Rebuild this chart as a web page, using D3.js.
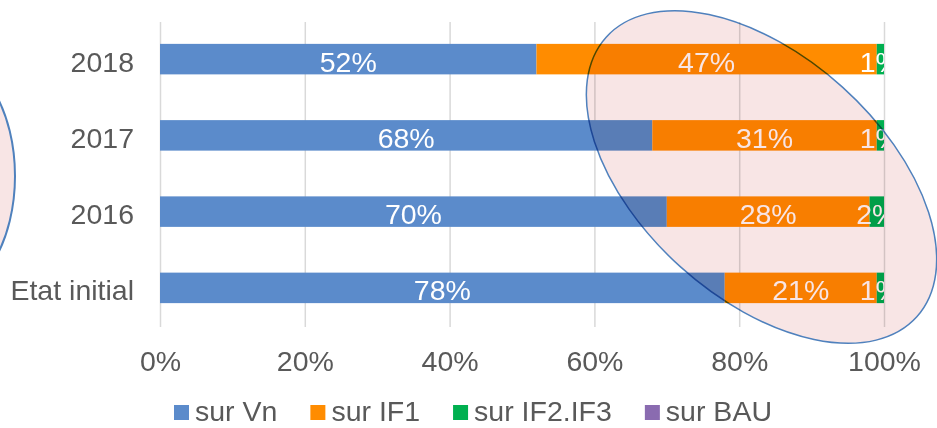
<!doctype html>
<html>
<head>
<meta charset="utf-8">
<script src="https://d3js.org/d3.v7.min.js"></script>
<style>
  body {margin: 0; background: #fff;}
  svg {display: block; font-family: "Liberation Sans", Arial, sans-serif;}
  .lbl {fill: #595959;}
</style>
</head>
<body>
<svg width="937" height="428"></svg>
<script>
// data (percent of each year)
const categories = ["2018", "2017", "2016", "Etat initial"];
const seriesNames = ["sur Vn", "sur IF1", "sur IF2.IF3", "sur BAU"];
const surVn    = [52, 68, 70, 78];
const surIF1   = [47, 31, 28, 21];
const surIF2   = [1, 1, 2, 1];
const surBAU   = [0, 0, 0, 0];
const colors   = ["#5B8BCB", "#FF8C00", "#00B050", "#8A6BB0"];
const xTicks   = [0, 20, 40, 60, 80, 100];

const svg = d3.select("svg");
const fs = 28.5;
const plotTop = 22, plotBottom = 327;

const x = d3.scaleLinear().domain([0, 100]).range([160, 884]);
const y = d3.scaleBand().domain(categories).range([21, 326]).paddingInner(0.6).paddingOuter(0.3);

// rows for the stack
const rows = categories.map((c, i) => ({cat: c, "sur Vn": surVn[i], "sur IF1": surIF1[i], "sur IF2.IF3": surIF2[i], "sur BAU": surBAU[i]}));
const stacked = d3.stack().keys(seriesNames)(rows);

// gridlines
const grid = svg.append("g")
    .attr("transform", "translate(0," + plotBottom + ")")
    .call(d3.axisBottom(x).tickValues(xTicks).tickSize(-(plotBottom - plotTop)).tickFormat(""));
grid.select(".domain").remove();
grid.selectAll("line").attr("stroke", "#D9D9D9").attr("stroke-width", 1.5);

// x tick labels
const xa = svg.append("g")
    .attr("transform", "translate(0," + plotBottom + ")")
    .call(d3.axisBottom(x).tickValues(xTicks).tickSize(0).tickPadding(24).tickFormat(d => d + "%"));
xa.attr("font-family", null).attr("font-size", null);
xa.select(".domain").remove();
xa.selectAll("text").attr("class", "lbl").attr("fill", null).style("font-size", fs + "px");

// category labels
svg.append("g").selectAll("text")
  .data(categories).enter().append("text")
    .attr("class", "lbl")
    .attr("x", 134)
    .attr("y", d => y(d) + y.bandwidth() / 2 + 12.5)
    .attr("text-anchor", "end")
    .style("font-size", fs + "px")
    .text(d => d);

// bars
svg.append("g").selectAll("g")
  .data(stacked).enter().append("g")
    .attr("fill", (d, i) => colors[i])
  .selectAll("rect")
  .data(d => d).enter().append("rect")
    .attr("x", d => x(d[0]))
    .attr("y", d => y(d.data.cat))
    .attr("width", d => x(d[1]) - x(d[0]))
    .attr("height", y.bandwidth());

// value labels, cut at the 100% line
svg.append("clipPath").attr("id", "plotclip")
  .append("rect").attr("x", 0).attr("y", 0).attr("width", x(100)).attr("height", 428);

svg.append("g").attr("clip-path", "url(#plotclip)")
  .selectAll("g")
  .data(stacked).enter().append("g")
  .selectAll("text")
  .data(d => d.filter(v => v[1] - v[0] > 0)).enter().append("text")
    .attr("x", d => (x(d[0]) + x(d[1])) / 2)
    .attr("y", d => y(d.data.cat) + y.bandwidth() / 2 + 12.5)
    .attr("text-anchor", "middle")
    .attr("fill", "#fff")
    .style("font-size", fs + "px")
    .text(d => Math.round(d[1] - d[0]) + "%");

// legend
const leg = svg.append("g");
let lx = 174;
seriesNames.forEach((s, i) => {
  leg.append("rect").attr("x", lx).attr("y", 405).attr("width", 15).attr("height", 15).attr("fill", colors[i]);
  const t = leg.append("text").attr("class", "lbl")
      .attr("x", lx + 21).attr("y", 421)
      .style("font-size", fs + "px").text(s);
  lx += 21 + t.node().getComputedTextLength() + 33;
});

// highlight ellipses drawn on top
svg.append("ellipse")
    .attr("cx", 0).attr("cy", 0).attr("rx", 209).attr("ry", 121)
    .attr("transform", "translate(761.5,177) rotate(42)")
    .attr("fill", "#F8E5E5").attr("stroke", "#4F81BD").attr("stroke-width", 1.5)
    .style("mix-blend-mode", "multiply");

svg.append("ellipse")
    .attr("cx", -60).attr("cy", 176).attr("rx", 75).attr("ry", 122)
    .attr("fill", "#F8E5E5").attr("stroke", "#4F81BD").attr("stroke-width", 2)
    .style("mix-blend-mode", "multiply");
</script>
</body>
</html>
